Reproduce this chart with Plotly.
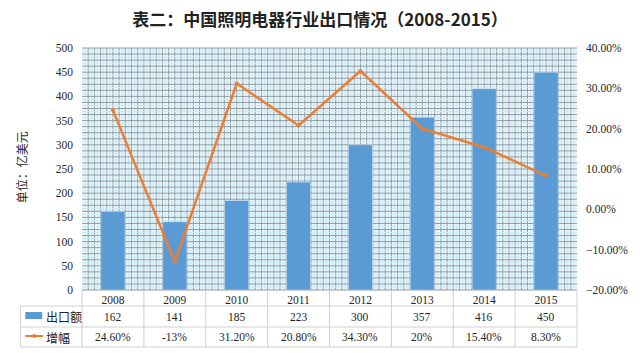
import plotly.graph_objects as go

years = ["2008", "2009", "2010", "2011", "2012", "2013", "2014", "2015"]
export_value = [162, 141, 185, 223, 300, 357, 416, 450]
growth = [0.246, -0.13, 0.312, 0.208, 0.343, 0.20, 0.154, 0.083]
export_labels = ["162", "141", "185", "223", "300", "357", "416", "450"]
growth_labels = ["24.60%", "-13%", "31.20%", "20.80%", "34.30%", "20%", "15.40%", "8.30%"]

W, H = 640, 353
L, R, T, B = 82, 60, 48, 63
pw, ph = W - L - R, H - T - B

def px_x(p):
    return (p - L) / pw

def px_y(p):
    return (H - B - p) / ph

BLUE = "#5B9BD5"
ORANGE = "#ED7D31"
TXT = "#262626"
serif = "Liberation Serif"
cjk = "Noto Sans CJK SC"

fig = go.Figure()
fig.add_trace(go.Bar(x=years, y=export_value, marker_color=BLUE, name="出口额",
                     yaxis="y", width=0.39))
fig.add_trace(go.Scatter(x=years, y=growth, mode="lines+markers", name="增幅",
                         line=dict(color=ORANGE, width=2.5),
                         marker=dict(color=ORANGE, size=4), yaxis="y2"))

shapes = []
# patterned grid (pattern fill of the plot area)
DARK_G = "#8d9ea6"
LIGHT_G = "#c9e8f5"
nv, nh = 80, 40
for i in range(1, nv * 2):
    x = i / (nv * 2)
    dark = (i % 2 == 0)
    shapes.append(dict(type="line", xref="x domain", yref="y domain", x0=x, x1=x, y0=0, y1=1,
                       line=dict(color=DARK_G if dark else LIGHT_G, width=1), layer="below"))
for i in range(0, nh * 2 + 1):
    y = i / (nh * 2)
    dark = (i % 2 == 0)
    shapes.append(dict(type="line", xref="x domain", yref="y domain", x0=0, x1=1, y0=y, y1=y,
                       line=dict(color=DARK_G if dark else LIGHT_G, width=1), layer="below"))

# table lines
gray = "#d0d0d0"
for yp in [306, 327, 347]:
    shapes.append(dict(type="line", xref="paper", yref="paper", x0=px_x(20), x1=1, y0=px_y(yp), y1=px_y(yp),
                       line=dict(color=gray, width=1)))
shapes.append(dict(type="line", xref="paper", yref="paper", x0=px_x(20), x1=px_x(20), y0=px_y(306), y1=px_y(347),
                   line=dict(color=gray, width=1)))
for k in range(len(years) + 1):
    xx = k / len(years)
    shapes.append(dict(type="line", xref="paper", yref="paper", x0=xx, x1=xx, y0=0, y1=px_y(347),
                       line=dict(color=gray, width=1)))
# legend keys
shapes.append(dict(type="rect", xref="paper", yref="paper", x0=px_x(25), x1=px_x(42), y0=px_y(319), y1=px_y(312),
                   fillcolor=BLUE, line=dict(width=0)))
shapes.append(dict(type="line", xref="paper", yref="paper", x0=px_x(25), x1=px_x(43), y0=px_y(336), y1=px_y(336),
                   line=dict(color=ORANGE, width=2)))
shapes.append(dict(type="circle", xref="paper", yref="paper", x0=px_x(32), x1=px_x(36), y0=px_y(338), y1=px_y(334),
                   fillcolor=ORANGE, line=dict(width=0)))

annotations = []
for i, (ev, gv) in enumerate(zip(export_labels, growth_labels)):
    annotations.append(dict(x=i, xref="x", y=px_y(316.5), yref="paper", text=ev, showarrow=False,
                            font=dict(family=serif, size=11.5, color=TXT), xanchor="center", yanchor="middle"))
    annotations.append(dict(x=i, xref="x", y=px_y(337), yref="paper", text=gv, showarrow=False,
                            font=dict(family=serif, size=11.5, color=TXT), xanchor="center", yanchor="middle"))
annotations.append(dict(x=px_x(44), xref="paper", y=px_y(316.5), yref="paper", text="出口额", showarrow=False,
                        font=dict(family=cjk, size=12, color=TXT), xanchor="left", yanchor="middle"))
annotations.append(dict(x=px_x(44), xref="paper", y=px_y(337), yref="paper", text="增幅", showarrow=False,
                        font=dict(family=cjk, size=12, color=TXT), xanchor="left", yanchor="middle"))
annotations.append(dict(x=px_x(21), xref="paper", y=px_y(167), yref="paper", text="单位：亿美元", showarrow=False,
                        textangle=-90, font=dict(family=cjk, size=12, color=TXT), xanchor="center", yanchor="middle"))

fig.update_layout(
    width=W, height=H,
    margin=dict(l=L, r=R, t=T, b=B),
    paper_bgcolor="white",
    plot_bgcolor="#eef8fc",
    showlegend=False,
    title=dict(text="<b>表二：中国照明电器行业出口情况（2008-2015）</b>", x=0.5, xanchor="center",
               y=1 - 20 / H, yanchor="middle", font=dict(family=cjk, size=17, color="#222222")),
    xaxis=dict(type="category", categoryarray=years, range=[-0.5, len(years) - 0.5], autorange=False,
               showgrid=False, zeroline=False, showline=False,
               tickfont=dict(family=serif, size=11.5, color=TXT), ticks="", ticklabelstandoff=1),
    yaxis=dict(range=[0, 500], dtick=50, showgrid=False, zeroline=False, showline=False,
               tickfont=dict(family=serif, size=11.5, color=TXT), ticklabelstandoff=8),
    yaxis2=dict(range=[-0.2, 0.4], dtick=0.1, tickformat=".2%", overlaying="y", side="right",
                showgrid=False, zeroline=False, showline=False,
                tickfont=dict(family=serif, size=11.5, color=TXT), ticklabelstandoff=8),
    shapes=shapes,
    annotations=annotations,
)

fig.write_html("out.html")
